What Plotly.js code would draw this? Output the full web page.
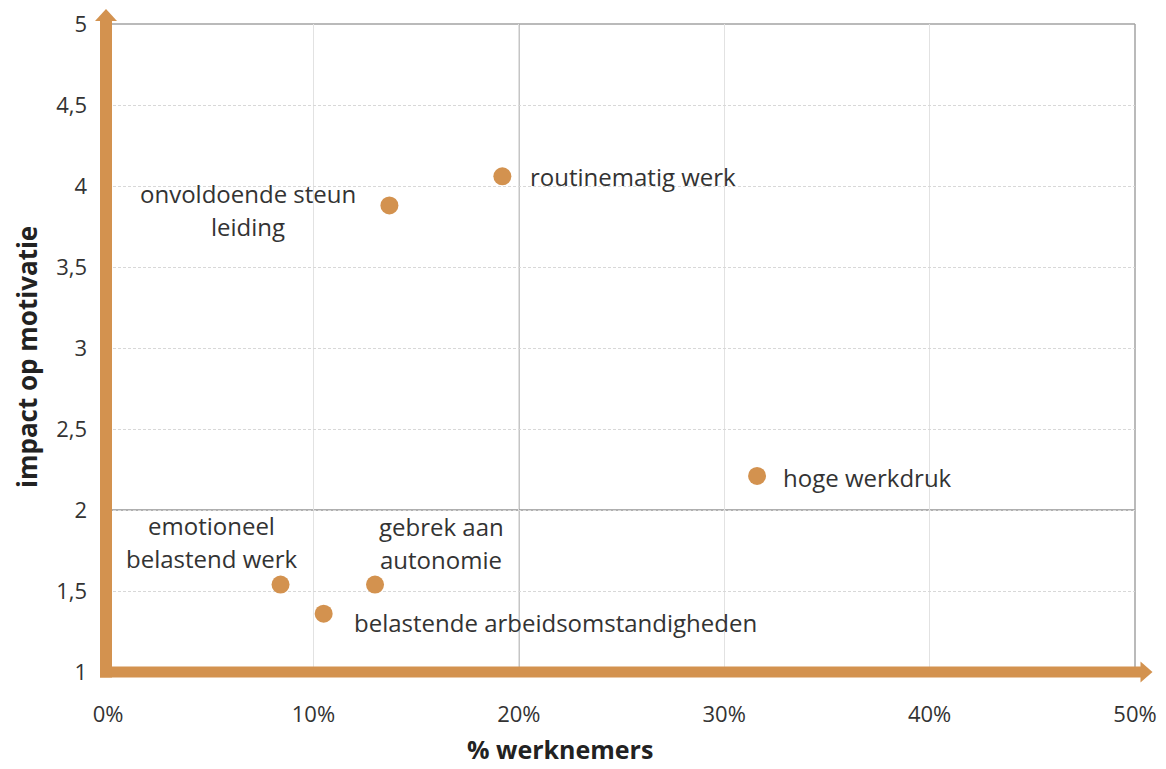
<!DOCTYPE html>
<html>
<head>
<meta charset="utf-8">
<script src="https://cdn.plot.ly/plotly-3.0.1.min.js"></script>
<style>html,body{margin:0;padding:0;background:#fff;}#chart{width:1166px;height:769px;}</style>
</head>
<body>
<div id="chart"></div>
<script>
// Data
const labels = [
  "routinematig werk",
  "onvoldoende steun<br>leiding",
  "hoge werkdruk",
  "emotioneel<br>belastend werk",
  "gebrek aan<br>autonomie",
  "belastende arbeidsomstandigheden"
];
const pctWerknemers = [0.192, 0.137, 0.316, 0.084, 0.130, 0.105];
const impactMotivatie = [4.06, 3.88, 2.21, 1.54, 1.54, 1.36];
const xTickVals = [0, 0.1, 0.2, 0.3, 0.4, 0.5];
const xTickText = ["0%", "10%", "20%", "30%", "40%", "50%"];
const yTickVals = [1, 1.5, 2, 2.5, 3, 3.5, 4, 4.5, 5];
const yTickText = ["1", "1,5", "2", "2,5", "3", "3,5", "4", "4,5", "5"];

// Label placement (pixel offsets from each point): [xshift, yshift of first line, xanchor]
const labelPos = [
  [26, 0, "left"],
  [-141, 12, "center"],
  [24, -2, "left"],
  [-69, 59, "center"],
  [66, 58, "center"],
  [28, -9, "left"]
];

const ORANGE = "#D3924F";
const FONT = "Open Sans, sans-serif";
const TXT = "#333333";

const W = 1027.5, H = 648;

const annotations = [];
labels.forEach((lab, i) => {
  const lines = lab.split("<br>");
  const [xs, ys, xa] = labelPos[i];
  lines.forEach((ln, j) => {
    annotations.push({
      x: pctWerknemers[i], y: impactMotivatie[i], xref: "x", yref: "y",
      text: ln, showarrow: false, xanchor: xa, yanchor: "middle",
      xshift: xs, yshift: ys - j * 33,
      font: {family: FONT, size: 24, color: TXT}
    });
  });
});
annotations.push({
  xref: "paper", yref: "paper", x: (560 - 108) / W, y: -(749 - 672) / H,
  text: "<b>% werknemers</b>", showarrow: false, xanchor: "center", yanchor: "middle",
  font: {family: FONT, size: 25, color: "#222"}
});
annotations.push({
  xref: "paper", yref: "paper", x: -(108 - 27) / W, y: (672 - 357) / H,
  text: "<b>impact op motivatie</b>", showarrow: false, textangle: -90,
  xanchor: "center", yanchor: "middle",
  font: {family: FONT, size: 26, color: "#222"}
});

const shapes = [
  // quadrant lines
  {type: "line", xref: "x", yref: "paper", x0: 0.2, x1: 0.2, y0: 0, y1: 1, line: {color: "#959595", width: 1.5}, layer: "between"},
  {type: "line", xref: "paper", yref: "y", x0: 0, x1: 1, y0: 2, y1: 2, line: {color: "#959595", width: 1.5}, layer: "between"},
  // top & right border
  {type: "line", xref: "paper", yref: "paper", x0: 0, x1: 1, y0: 1, y1: 1, line: {color: "#a3a3a3", width: 1.5}, layer: "between"},
  {type: "line", xref: "paper", yref: "paper", x0: 1, x1: 1, y0: 0, y1: 1, line: {color: "#a3a3a3", width: 1.5}, layer: "between"},
  // x axis arrow
  {type: "rect", xref: "paper", yref: "paper", x0: -8 / W, x1: 1034 / W, y0: -5.5 / H, y1: 5.5 / H, fillcolor: ORANGE, line: {width: 0}, layer: "above"},
  {type: "path", xref: "paper", yref: "paper",
   path: `M ${1033 / W} ${10.5 / H} L ${1045 / W} 0 L ${1033 / W} ${-10.5 / H} Z`,
   fillcolor: ORANGE, line: {width: 0}, layer: "above"},
  // y axis arrow
  {type: "rect", xref: "paper", yref: "paper", x0: -8 / W, x1: 4 / W, y0: -5.5 / H, y1: 652 / H, fillcolor: ORANGE, line: {width: 0}, layer: "above"},
  {type: "path", xref: "paper", yref: "paper",
   path: `M ${-13 / W} ${651 / H} L ${-2 / W} ${663 / H} L ${9 / W} ${651 / H} Z`,
   fillcolor: ORANGE, line: {width: 0}, layer: "above"}
];

const trace = {
  type: "scatter", mode: "markers",
  x: pctWerknemers, y: impactMotivatie,
  marker: {color: ORANGE, size: 18},
  cliponaxis: false, hoverinfo: "skip"
};

const layout = {
  width: 1166, height: 769,
  margin: {l: 108, r: 30.5, t: 24, b: 97},
  paper_bgcolor: "#fff", plot_bgcolor: "#fff",
  showlegend: false,
  xaxis: {
    range: [0, 0.5], tickvals: xTickVals, ticktext: xTickText,
    showgrid: true, gridcolor: "#e2e2e2", gridwidth: 1,
    zeroline: false, showline: false, ticks: "", ticklabelstandoff: 27,
    tickfont: {family: FONT, size: 22, color: TXT}, fixedrange: true
  },
  yaxis: {
    range: [1, 5], tickvals: yTickVals, ticktext: yTickText,
    showgrid: true, gridcolor: "#d8d8d8", griddash: "3px,2px", gridwidth: 1,
    zeroline: false, showline: false, ticks: "", ticklabelstandoff: 20,
    tickfont: {family: FONT, size: 22, color: TXT}, fixedrange: true
  },
  shapes: shapes,
  annotations: annotations
};

Plotly.newPlot("chart", [trace], layout, {displayModeBar: false, staticPlot: true});
</script>
</body>
</html>
